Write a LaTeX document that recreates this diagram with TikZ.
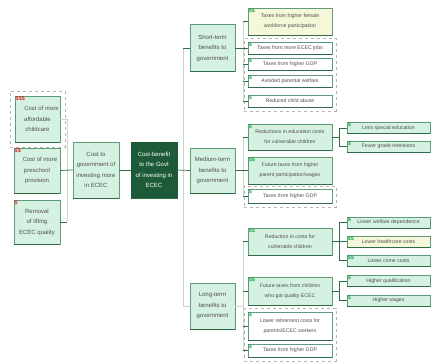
\documentclass[tikz,border=0pt]{standalone}
\usepackage{fontspec}
\setmainfont{Liberation Sans}
\usetikzlibrary{fit}
\definecolor{mint}{HTML}{D5F1E1}
\definecolor{edgec}{HTML}{5E9C79}
\definecolor{bottomc}{HTML}{2F6B49}
\definecolor{deep}{HTML}{1D5A38}
\definecolor{pale}{HTML}{F4F7D8}
\definecolor{txt}{HTML}{505050}
\definecolor{lite}{HTML}{C6D7CB}
\definecolor{grpc}{HTML}{B4B4B4}
\definecolor{gico}{HTML}{1FA34A}
\definecolor{rico}{HTML}{E02020}
\tikzset{
  box/.style={draw=edgec, line width=0.5pt, fill=mint, text=txt, align=center,
    inner sep=0pt, font=\fontsize{6}{10.5}\selectfont,
    append after command={(\tikzlastnode.south west) edge[draw=bottomc, line width=1.3pt] (\tikzlastnode.south east)}},
  leaf/.style={box, font=\fontsize{5.2}{10}\selectfont, minimum width=84pt},
  twig/.style={box, font=\fontsize{5.2}{10}\selectfont, minimum width=83pt, minimum height=11pt},
  plain/.style={fill=white},
  hi/.style={fill=pale},
  darkbox/.style={box, fill=deep, draw=deep, text=white},
  conn/.style={draw=bottomc, line width=0.7pt},
  litec/.style={draw=lite, line width=0.7pt},
  grp/.style={draw=grpc, dashed, line width=0.5pt, inner sep=3.5pt},
  ico/.style={label={[anchor=north west, inner xsep=0.8pt, inner ysep=0.4pt, font=\fontsize{5.5}{5}\selectfont\bfseries, text=gico]north west:#1}},
  rico/.style={label={[anchor=north west, inner xsep=0.8pt, inner ysep=0.4pt, font=\fontsize{5.5}{5}\selectfont\bfseries, text=rico]north west:#1}},
}
\begin{document}
\begin{tikzpicture}[x=1pt,y=-1pt]
\useasboundingbox[fill=white] (0,0) rectangle (432,362);

% costs
\node[box, minimum width=45pt, minimum height=46pt, rico={\$\$\$}] (A1) at (37.5,119) {\hspace*{8pt}Cost of more\\affordable\\childcare};
\node[box, minimum width=46pt, minimum height=45pt, rico={\$\$}] (A2) at (37,170.5) {\hspace*{6pt}Cost of more\\preschool\\provision};
\node[box, minimum width=46pt, minimum height=44pt, rico={\$}] (A3) at (37,222) {Removal\\of lifting\\ECEC quality};
\node[grp, fit=(A1), inner xsep=5pt, inner ysep=4.5pt] (gA) {};

\node[box, minimum width=46pt, minimum height=56pt] (C) at (96,170) {Cost to\\government of\\investing more\\in ECEC};
\node[darkbox, minimum width=46pt, minimum height=56pt] (D) at (154,170) {Cost-benefit\\to the Govt\\of investing in\\ECEC};

% benefit horizons
\node[box, minimum width=45pt, minimum height=47pt] (S) at (212.5,48) {Short-term\\benefits to\\government};
\node[box, minimum width=45pt, minimum height=45pt] (M) at (212.5,170.5) {Medium-term\\benefits to\\government};
\node[box, minimum width=45pt, minimum height=46pt] (L) at (212.5,306) {Long-term\\benefits to\\government};

% short-term items
\node[leaf, hi, minimum height=27pt, ico={\$\$}] (S1) at (290,21.5) {Taxes from higher female\\workforce participation};
\node[leaf, plain, minimum height=12pt, ico={\$}] (S2) at (290,48) {Taxes from more ECEC jobs};
\node[leaf, plain, minimum height=12pt, ico={\$}] (S3) at (290,64.5) {Taxes from higher GDP};
\node[leaf, plain, minimum height=12pt, ico={\$}] (S4) at (290,81) {Avoided parental welfare};
\node[leaf, plain, minimum height=12pt, ico={\$}] (S5) at (290,101) {Reduced child abuse};
\node[grp, fit=(S2)(S5)] (gS) {};

% medium-term items
\node[leaf, minimum height=26pt, ico={\$}] (M1) at (290,137) {Reductions in education costs\\for vulnerable children};
\node[leaf, minimum height=27pt, ico={\$\$}] (M2) at (290,170.5) {Future taxes from higher\\parent participation/wages};
\node[leaf, plain, minimum height=14pt, ico={\$}] (M3) at (290,196.5) {Taxes from higher GDP};
\node[grp, fit=(M3)] (gM) {};
\node[twig, ico={\$}] (M1a) at (388.5,128) {Less special education};
\node[twig, ico={\$}] (M1b) at (388.5,146.5) {Fewer grade retentions};

% long-term items
\node[leaf, minimum height=27pt, ico={\$\$}] (L1) at (290,241.5) {Reduction in costs for\\vulnerable children};
\node[leaf, minimum height=28pt, ico={\$\$}] (L2) at (290,291) {Future taxes from children\\who got quality ECEC};
\node[leaf, plain, minimum height=28pt, ico={\$}] (L3) at (290,326) {Lower retirement costs for\\parents/ECEC workers};
\node[leaf, plain, minimum height=13pt, ico={\$}] (L4) at (290,350.5) {Taxes from higher GDP};
\node[grp, fit=(L3)(L4)] (gL) {};
\node[twig, ico={\$}] (L1a) at (388.5,222.5) {Lower welfare dependence};
\node[twig, hi, ico={\$\$}] (L1b) at (388.5,241.5) {Lower healthcare costs};
\node[twig, ico={\$\$}] (L1c) at (388.5,260.5) {Lower crime costs};
\node[twig, ico={\$}] (L2a) at (388.5,281) {Higher qualification};
\node[twig, ico={\$}] (L2b) at (388.5,300.5) {Higher wages};

% trunks
\coordinate (tl) at (67,0);
\coordinate (t0) at (183,0);
\coordinate (t1) at (243,0);
\coordinate (t2) at (339,0);

% cost side
\draw[litec] (A1.east -| tl) -- (A3.east -| tl);
\draw[litec] (A1.east) -- (A1.east -| tl);
\draw[conn] (A3.east) -- (A3.east -| tl);
\draw[conn] (A2.east) -- (C.west);
\draw[conn] (C.east) -- (D.west);

% main benefit trunk
\draw[litec] (S.west -| t0) -- (L.west -| t0);
\draw[conn] (D.east) -- (M.west);
\draw[conn] (S.west -| t0) -- (S.west);
\draw[litec] (L.west -| t0) -- (L.west);

% short-term branch
\draw[litec] (S1.west -| t1) -- (S5.west -| t1);
\draw[conn] (S.east) -- (S2.west);
\foreach \n in {S1,S3,S4,S5} \draw[conn] (\n.west -| t1) -- (\n.west);

% medium-term branch
\draw[litec] (M1.west -| t1) -- (M3.west -| t1);
\draw[conn] (M.east) -- (M2.west);
\foreach \n in {M1,M3} \draw[conn] (\n.west -| t1) -- (\n.west);
\draw[conn] (M1.east) -- (M1.east -| t2);
\draw[conn] (M1a.west -| t2) -- (M1b.west -| t2);
\foreach \n in {M1a,M1b} \draw[conn] (\n.west -| t2) -- (\n.west);

% long-term branch
\draw[litec] (L1.west -| t1) -- (L4.west -| t1);
\draw[litec] (L.east) -- (L.east -| t1);
\foreach \n in {L1,L2,L3,L4} \draw[conn] (\n.west -| t1) -- (\n.west);
\draw[conn] (L1.east) -- (L1.east -| t2);
\draw[conn] (L1a.west -| t2) -- (L1c.west -| t2);
\foreach \n in {L1a,L1b,L1c} \draw[conn] (\n.west -| t2) -- (\n.west);
\draw[conn] (L2.east) -- (L2.east -| t2);
\draw[conn] (L2a.west -| t2) -- (L2b.west -| t2);
\foreach \n in {L2a,L2b} \draw[conn] (\n.west -| t2) -- (\n.west);
\end{tikzpicture}
\end{document}
